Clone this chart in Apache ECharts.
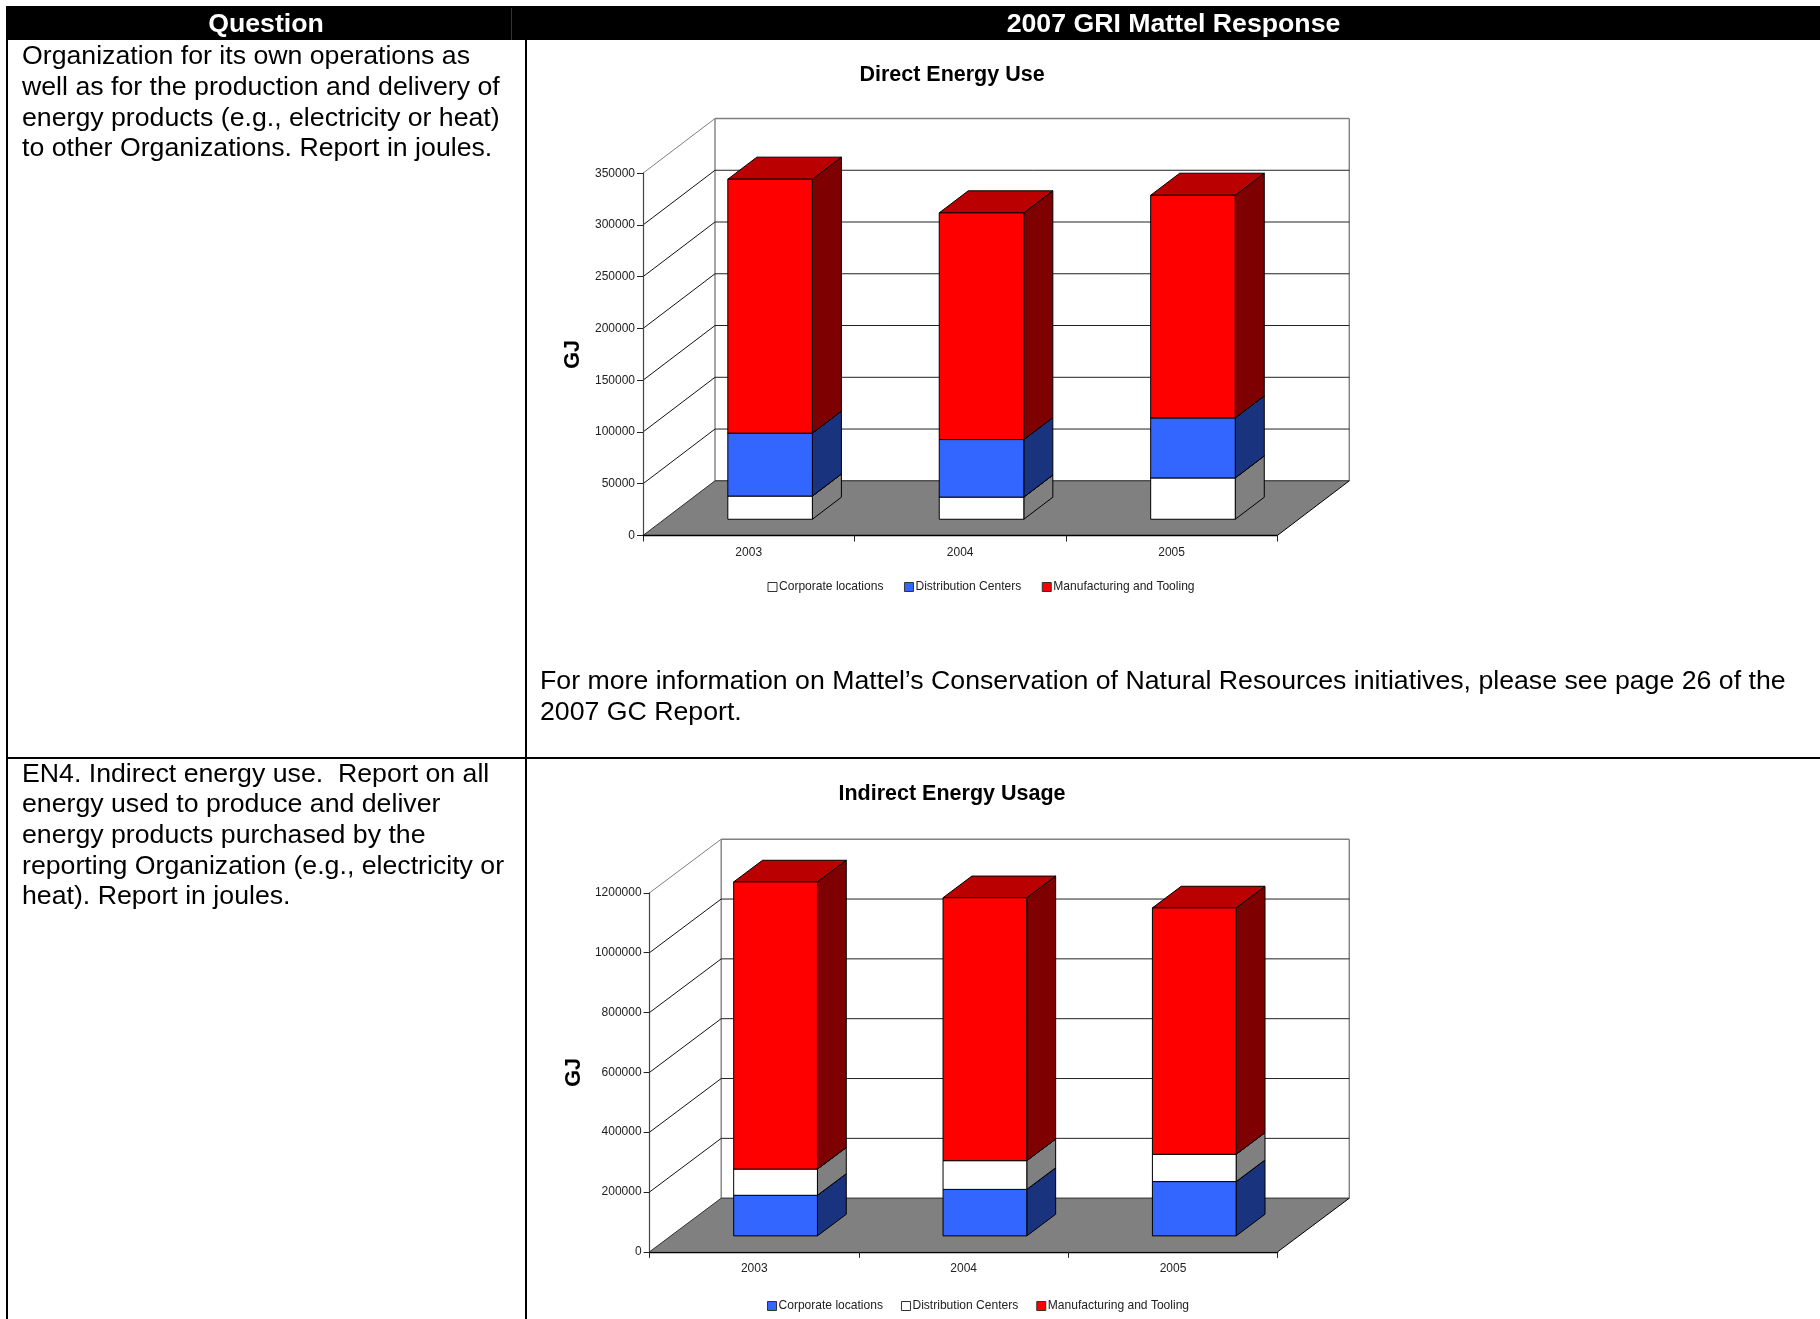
<!DOCTYPE html>
<html>
<head>
<meta charset="utf-8">
<title>2007 GRI Mattel Response</title>
<script src="https://cdn.jsdelivr.net/npm/echarts@6/dist/echarts.min.js"></script>
<style>
  html, body { margin: 0; padding: 0; background: #fff; }
  #page { width: 1820px; height: 1319px; }
</style>
</head>
<body>
<div id="page"></div>
<script>
// Years shared by both charts
const categories = ['2003', '2004', '2005'];

// Direct energy use, GJ
const directCorporate = [22400, 21400, 39900];
const directDistribution = [60800, 55600, 58000];
const directManufacturing = [245300, 219000, 215100];
const directTicks = [0, 50000, 100000, 150000, 200000, 250000, 300000, 350000];

// Indirect energy usage, GJ
const indirectCorporate = [135700, 155400, 181500];
const indirectDistribution = [87600, 96000, 91300];
const indirectManufacturing = [960000, 879100, 823600];
const indirectTicks = [0, 200000, 400000, 600000, 800000, 1000000, 1200000];

// Table text
const headerLeft = 'Question';
const headerRight = '2007 GRI Mattel Response';
const questionOne = [
  'Organization for its own operations as',
  'well as for the production and delivery of',
  'energy products (e.g., electricity or heat)',
  'to other Organizations. Report in joules.'
];
const questionTwo = [
  'EN4. Indirect energy use.  Report on all',
  'energy used to produce and deliver',
  'energy products purchased by the',
  'reporting Organization (e.g., electricity or',
  'heat). Report in joules.'
];
const responseNote = [
  'For more information on Mattel\u2019s Conservation of Natural Resources initiatives, please see page 26 of the',
  '2007 GC Report.'
];

const FONT = '"Liberation Sans", Arial, sans-serif';
const BODY_SIZE = 26.7;
const LINE_STEP = 30.6;

// Oblique projection: how far the back of the box sits from the front plane
const boxDepth = [
  { dx: 72, dy: 54.7 },
  { dx: 71.6, dy: 53.6 }
];
const BAR_NEAR = 0.297;   // bar front, as a fraction of the box depth
const BAR_FAR = 0.70;     // bar back
const BAR_WIDTH = 0.4;    // share of the category band

const SERIES_COLORS = {
  white: { front: '#ffffff', side: '#808080', top: '#c0c0c0' },
  blue: { front: '#3366ff', side: '#19337f', top: '#264db8' },
  red: { front: '#ff0000', side: '#7f0000', top: '#ba0000' }
};

function poly(points, fill, stroke, lineWidth) {
  return {
    type: 'polygon',
    shape: { points: points },
    style: { fill: fill, stroke: stroke || null, lineWidth: lineWidth || 1, lineJoin: 'round' }
  };
}
function seg(a, b, stroke, lineWidth) {
  return {
    type: 'line',
    shape: { x1: a[0], y1: a[1], x2: b[0], y2: b[1] },
    style: { stroke: stroke, lineWidth: lineWidth || 1, fill: null }
  };
}

// Floor and back wall outline of one chart box
function boxSeries(idx) {
  const d = boxDepth[idx];
  return {
    type: 'custom', xAxisIndex: idx, yAxisIndex: idx, silent: true, z: 1,
    coordinateSystem: 'cartesian2d',
    data: [[0, 0]],
    renderItem: function (params) {
      const g = params.coordSys;
      const x0 = g.x, x1 = g.x + g.width, yb = g.y + g.height, yt = g.y;
      const kids = [
        seg([x0, yt], [x0 + d.dx, yt - d.dy], '#808080', 1),
        seg([x0 + d.dx, yt - d.dy], [x1 + d.dx, yt - d.dy], '#808080', 1.4),
        seg([x1 + d.dx, yt - d.dy], [x1 + d.dx, yb - d.dy], '#808080', 1.4),
        seg([x0 + d.dx, yt - d.dy], [x0 + d.dx, yb - d.dy], '#808080', 1.4),
        poly([[x0, yb], [x1, yb], [x1 + d.dx, yb - d.dy], [x0 + d.dx, yb - d.dy]], '#808080'),
        seg([x0 + d.dx, yb - d.dy], [x1 + d.dx, yb - d.dy], '#505050', 1.4),
        seg([x0, yb], [x0 + d.dx, yb - d.dy], '#303030', 1),
        seg([x1, yb], [x1 + d.dx, yb - d.dy], '#000000', 1)
      ];
      return { type: 'group', children: kids };
    }
  };
}

// Grid lines running along the side wall and across the back wall
function wallSeries(idx, ticks) {
  const d = boxDepth[idx];
  const inner = ticks.slice(1, -1);
  return {
    type: 'custom', xAxisIndex: idx, yAxisIndex: idx, silent: true, z: 2,
    coordinateSystem: 'cartesian2d',
    data: inner.map(function (v) { return [0, v]; }),
    encode: { x: 0, y: 1 },
    renderItem: function (params, api) {
      const g = params.coordSys;
      const y = api.coord([0, api.value(1)])[1];
      const x0 = g.x, x1 = g.x + g.width;
      return {
        type: 'group',
        children: [
          seg([x0, y], [x0 + d.dx, y - d.dy], '#111111', 1),
          seg([x0 + d.dx, y - d.dy], [x1 + d.dx, y - d.dy], '#222222', 1)
        ]
      };
    }
  };
}

// One stacked layer drawn as a box from its lower to its upper value
function barSeries(idx, name, colors, values, below, z) {
  const d = boxDepth[idx];
  return {
    type: 'custom', name: name, xAxisIndex: idx, yAxisIndex: idx, silent: true, z: z,
    coordinateSystem: 'cartesian2d',
    data: values.map(function (v, i) { return [i, below[i], below[i] + v]; }),
    encode: { x: 0, y: [1, 2] },
    itemStyle: { color: colors.front },
    renderItem: function (params, api) {
      const cat = api.value(0);
      const low = api.coord([cat, api.value(1)]);
      const high = api.coord([cat, api.value(2)]);
      const half = api.size([1, 0])[0] * BAR_WIDTH / 2;
      const nx = d.dx * BAR_NEAR, ny = d.dy * BAR_NEAR;
      const fx = d.dx * (BAR_FAR - BAR_NEAR), fy = d.dy * (BAR_FAR - BAR_NEAR);
      const l = low[0] - half + nx, r = low[0] + half + nx;
      const b = low[1] - ny, t = high[1] - ny;
      return {
        type: 'group',
        children: [
          poly([[r, b], [r + fx, b - fy], [r + fx, t - fy], [r, t]], colors.side, '#000', 1),
          poly([[l, t], [r, t], [r + fx, t - fy], [l + fx, t - fy]], colors.top, '#000', 1),
          poly([[l, b], [r, b], [r, t], [l, t]], colors.front, '#000', 1)
        ]
      };
    }
  };
}

function addUp() {
  const total = [0, 0, 0];
  const args = Array.prototype.slice.call(arguments);
  args.forEach(function (arr) { arr.forEach(function (v, i) { total[i] += v; }); });
  return total;
}

function axisPair(idx, ticks, step, nameGap) {
  return {
    x: {
      type: 'category', gridIndex: idx, data: categories, z: 6,
      axisLine: { lineStyle: { color: '#000', width: 1.4 } },
      axisTick: { show: true, length: 6, lineStyle: { color: '#222', width: 1 } },
      axisLabel: { color: '#222', fontSize: 12, fontFamily: FONT, margin: 11 },
      splitLine: { show: false }
    },
    y: {
      type: 'value', gridIndex: idx, min: ticks[0], max: ticks[ticks.length - 1], interval: step, z: 6,
      name: 'GJ', nameLocation: 'middle', nameGap: nameGap, nameRotate: 90,
      nameTextStyle: { fontSize: 21.5, fontWeight: 'bold', color: '#000', fontFamily: FONT },
      axisLine: { show: true, lineStyle: { color: '#444', width: 1.2 } },
      axisTick: { show: true, length: 6, lineStyle: { color: '#222', width: 1 } },
      axisLabel: {
        color: '#222', fontSize: 12, fontFamily: FONT, margin: 8,
        padding: [3, 0, 0, 0],
        formatter: function (v) { return String(v); }
      },
      splitLine: { show: false }
    }
  };
}

const axesA = axisPair(0, directTicks, 50000, 58.5);
const axesB = axisPair(1, indirectTicks, 200000, 65);

function legendFor(left, top, gap, colors) {
  const names = ['Corporate locations', 'Distribution Centers', 'Manufacturing and Tooling'];
  return {
    left: left, top: top, orient: 'horizontal', padding: 0, itemGap: gap,
    itemWidth: 9, itemHeight: 9, selectedMode: false, icon: 'rect',
    textStyle: { fontSize: 12.05, color: '#222', fontFamily: FONT, padding: [0, 0, 0, -3] },
    data: names.map(function (n, i) {
      return { name: n, itemStyle: { color: colors[i].front, borderColor: '#333', borderWidth: 1 } };
    })
  };
}

// Table frame and text drawn as page graphics
const graphics = [];
function bodyLines(lines, x, yStart) {
  lines.forEach(function (line, i) {
    graphics.push({
      type: 'text', silent: true,
      style: {
        text: line, x: x, y: yStart + i * LINE_STEP, fill: '#000',
        fontSize: BODY_SIZE, fontFamily: FONT, align: 'left', verticalAlign: 'middle'
      }
    });
  });
}
function block(x, y, w, h, fill) {
  graphics.push({ type: 'rect', silent: true, shape: { x: x, y: y, width: w, height: h }, style: { fill: fill } });
}
block(6, 6, 1814, 34, '#000');
block(6, 40, 2, 1279, '#000');
block(525, 40, 2, 1279, '#000');
block(6, 757, 1814, 2, '#000');
block(511, 8, 1, 32, '#333');
[[headerLeft, 266], [headerRight, 1173.5]].forEach(function (h) {
  graphics.push({
    type: 'text', silent: true,
    style: {
      text: h[0], x: h[1], y: 24.5, fill: '#fff', fontSize: BODY_SIZE, fontWeight: 'bold',
      fontFamily: FONT, align: 'center', verticalAlign: 'middle'
    }
  });
});
bodyLines(questionOne, 22, 57);
bodyLines(questionTwo, 22, 774.5);
bodyLines(responseNote, 540, 682);

const chart = echarts.init(document.getElementById('page'), null, { renderer: 'canvas', width: 1820, height: 1319 });

chart.setOption({
  animation: false,
  backgroundColor: '#ffffff',
  title: [
    { text: 'Direct Energy Use', left: 947, top: 59.5, textAlign: 'center',
      textStyle: { fontSize: 21.5, fontWeight: 'bold', color: '#000', fontFamily: FONT } },
    { text: 'Indirect Energy Usage', left: 947, top: 778, textAlign: 'center',
      textStyle: { fontSize: 21.5, fontWeight: 'bold', color: '#000', fontFamily: FONT } }
  ],
  legend: [
    legendFor(767.5, 581, 20.5, [SERIES_COLORS.white, SERIES_COLORS.blue, SERIES_COLORS.red]),
    legendFor(767, 1300, 18, [SERIES_COLORS.blue, SERIES_COLORS.white, SERIES_COLORS.red])
  ],
  grid: [
    { left: 643, top: 173.2, width: 634.3, height: 362.3 },
    { left: 649.6, top: 892.8, width: 628.1, height: 359 }
  ],
  xAxis: [axesA.x, axesB.x],
  yAxis: [axesA.y, axesB.y],
  series: [
    boxSeries(0),
    wallSeries(0, directTicks),
    barSeries(0, 'Corporate locations', SERIES_COLORS.white, directCorporate, [0, 0, 0], 3),
    barSeries(0, 'Distribution Centers', SERIES_COLORS.blue, directDistribution, directCorporate, 4),
    barSeries(0, 'Manufacturing and Tooling', SERIES_COLORS.red, directManufacturing, addUp(directCorporate, directDistribution), 5),
    boxSeries(1),
    wallSeries(1, indirectTicks),
    barSeries(1, 'Corporate locations', SERIES_COLORS.blue, indirectCorporate, [0, 0, 0], 3),
    barSeries(1, 'Distribution Centers', SERIES_COLORS.white, indirectDistribution, indirectCorporate, 4),
    barSeries(1, 'Manufacturing and Tooling', SERIES_COLORS.red, indirectManufacturing, addUp(indirectCorporate, indirectDistribution), 5)
  ],
  graphic: { elements: graphics }
});
</script>
</body>
</html>
